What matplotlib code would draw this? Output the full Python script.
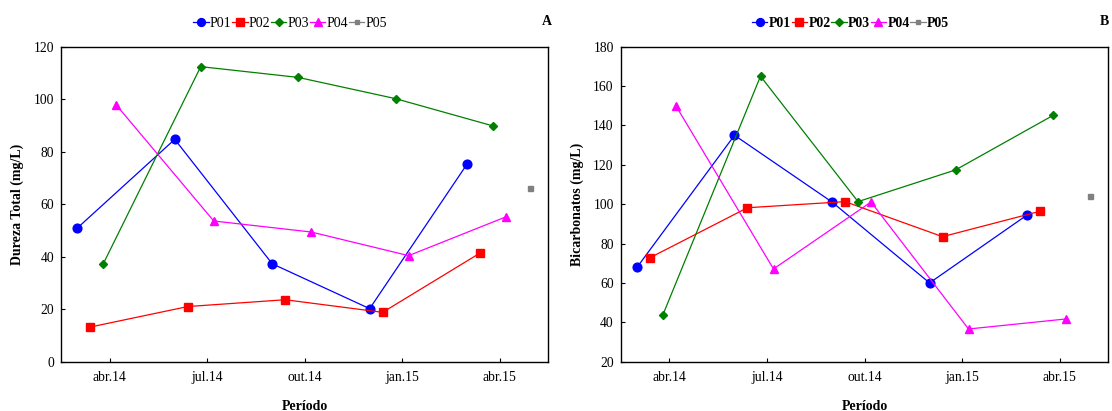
import matplotlib
matplotlib.use("Agg")
import matplotlib.pyplot as plt

plt.rcParams['font.family'] = ['Liberation Serif', 'DejaVu Serif']

# ---------------- dados ----------------
# posição no eixo x em meses desde jan/2014 (abr.14 = 3)
tick_pos = [3, 6, 9, 12, 15]
tick_lbl = ['abr.14', 'jul.14', 'out.14', 'jan.15', 'abr.15']

x_p01 = [2.0, 5.0, 8.0, 11.0, 14.0]
x_p02 = [2.4, 5.4, 8.4, 11.4, 14.4]
x_p03 = [2.8, 5.8, 8.8, 11.8, 14.8]
x_p04 = [3.2, 6.2, 9.2, 12.2, 15.2]
x_p05 = [15.95]

# A - Dureza Total (mg/L)
dur_p01 = [50.9, 84.7, 37.3, 20.2, 75.3]
dur_p02 = [13.2, 21.0, 23.6, 18.8, 41.4]
dur_p03 = [37.3, 112.4, 108.3, 100.2, 89.8]
dur_p04 = [97.8, 53.6, 49.4, 40.4, 55.2]
dur_p05 = [66.3]

# B - Bicarbonatos (mg/L)
bic_p01 = [67.9, 135.0, 101.1, 60.0, 94.5]
bic_p02 = [72.8, 98.2, 101.3, 83.5, 96.4]
bic_p03 = [43.9, 165.0, 101.3, 117.4, 145.1]
bic_p04 = [149.9, 67.1, 101.1, 36.6, 41.7]
bic_p05 = [104.2]

xs = [x_p01, x_p02, x_p03, x_p04, x_p05]
names = ['P01', 'P02', 'P03', 'P04', 'P05']
colors = ['#0000ff', '#ff0000', '#008000', '#ff00ff', '#808080']
markers = ['o', 's', 'D', '^', 's']
msizes = [6.3, 5.8, 4.2, 6.3, 3.6]

fig = plt.figure(figsize=(11.12, 4.11), dpi=100)
axA = fig.add_axes([0.0549, 0.12, 0.4382, 0.7664])
axB = fig.add_axes([0.5582, 0.12, 0.4385, 0.7664])


def draw(ax, series, ylim, yticks, ylabel, leg_x, bold, letter, letter_x, ylabelpad):
    for x, y, n, c, m, s in zip(xs, series, names, colors, markers, msizes):
        ax.plot(x, y, '-', color=c, marker=m, markersize=s, linewidth=0.9,
                markeredgecolor=c, label=n)
    ax.set_xlim(1.5, 16.5)
    ax.set_ylim(*ylim)
    ax.set_yticks(yticks)
    ax.set_xticks(tick_pos)
    ax.set_xticklabels(tick_lbl)
    ax.tick_params(axis='x', direction='in', length=3, pad=7, labelsize=9.8)
    ax.tick_params(axis='y', direction='in', length=3, pad=5, labelsize=9.8)
    for sp in ax.spines.values():
        sp.set_linewidth(1.0)
    ax.set_xlabel('Período', fontsize=10, fontweight='bold', labelpad=11)
    ax.set_ylabel(ylabel, fontsize=10, fontweight='bold', labelpad=ylabelpad)
    ax.legend(loc='center', bbox_to_anchor=(leg_x, 0.942), bbox_transform=fig.transFigure,
              ncol=5, frameon=False, handlelength=1.1, handletextpad=0.1,
              columnspacing=0.05, borderaxespad=0, markerscale=0.9,
              prop={'size': 10, 'weight': 'bold' if bold else 'normal'})
    fig.text(letter_x, 0.948, letter, fontsize=10, fontweight='bold', ha='center', va='center')


draw(axA, [dur_p01, dur_p02, dur_p03, dur_p04, dur_p05], (0, 120), range(0, 121, 20),
     'Dureza Total (mg/L)', 0.261, False, 'A', 0.4915, 7)
draw(axB, [bic_p01, bic_p02, bic_p03, bic_p04, bic_p05], (20, 180), range(20, 181, 20),
     'Bicarbonatos (mg/L)', 0.765, True, 'B', 0.9935, 6.5)

fig.savefig('out.png', dpi=100)
